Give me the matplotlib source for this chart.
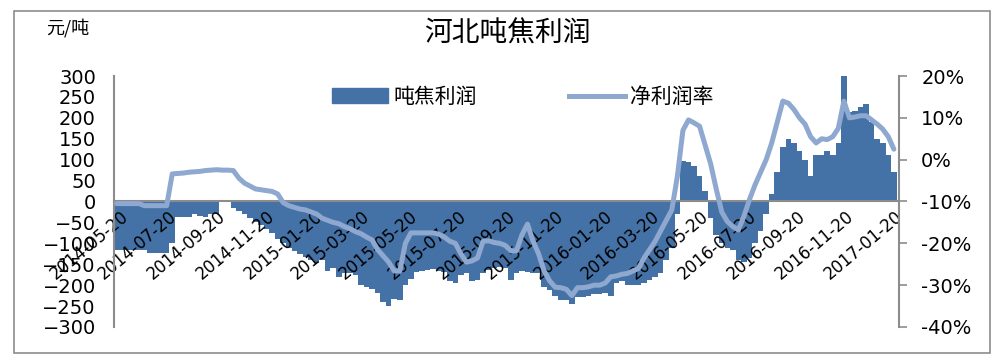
import numpy as np
import pandas as pd
import matplotlib
matplotlib.use('Agg')
import matplotlib.pyplot as plt
from matplotlib.patches import Rectangle
from matplotlib.lines import Line2D
from matplotlib.ticker import FuncFormatter, FixedLocator, FixedFormatter
import matplotlib.dates as mdates

plt.rcParams['font.family'] = ['Noto Sans CJK SC', 'DejaVu Sans']

# weekly values, starting 2014-05-12
profit = [
    -117, -117, -117, -117, -117, -117, -123, -123, -123, -123,
    -100, -38, -36, -36, -30, -35, -38, -30, -29, None,
    None, -15, -22, -30, -40, -48, -55, -65, -75, -90,
    -100, -110, -118, -125, -133, -140, -148, -140, -165, -160,
    -180, -172, -170, -175, -200, -205, -210, -218, -240, -250,
    -232, -235, -200, -185, -168, -166, -164, -162, -165, -168,
    -190, -195, -175, -170, -190, -188, -170, -164, -160, -157,
    -160, -188, -170, -165, -168, -170, -171, -205, -212, -225,
    -236, -236, -245, -229, -229, -225, -222, -220, -219, -225,
    -195, -190, -200, -200, -200, -195, -188, -180, -170, -140,
    -110, -30, 98, 95, 85, 60, 25, -40, -80, -100,
    -110, -117, -140, -145, -135, -100, -70, -30, 18, 70,
    130, 150, 140, 120, 100, 60, 112, 112, 120, 110,
    140, 300, 214, 216, 225, 233, 190, 150, 140, 110,
    70,
]
margin = [
    -10.5, -10.5, -10.5, -10.5, -10.5, -11.0, -11.0, -11.0, -11.0, -11.0,
    -3.4, -3.3, -3.2, -3.0, -2.9, -2.8, -2.6, -2.5, -2.4, -2.5,
    -2.5, -2.6, -4.4, -5.6, -6.3, -7.0, -7.2, -7.4, -7.6, -8.2,
    -10.3, -11.0, -11.4, -11.8, -12.0, -12.5, -13.0, -14.0, -14.5, -15.0,
    -15.3, -16.0, -16.5, -17.2, -17.7, -18.5, -19.2, -21.5, -23.0, -24.5,
    -26.6, -26.6, -20.0, -17.5, -17.5, -17.5, -17.5, -17.5, -17.8, -18.5,
    -19.5, -20.0, -22.5, -24.5, -24.2, -23.5, -19.5, -19.4, -19.8, -20.0,
    -20.5, -21.8, -21.8, -18.0, -15.4, -19.5, -22.5, -26.6, -29.0, -30.5,
    -30.6, -31.0, -32.5, -30.6, -30.6, -30.4, -30.0, -30.0, -29.5, -28.0,
    -27.8, -27.4, -27.2, -26.6, -26.0, -23.5, -21.5, -19.5, -17.0, -14.5,
    -12.0, -4.0, 7.0, 9.5, 8.8, 8.0, 3.5, -1.0, -7.0, -12.5,
    -14.8, -16.0, -16.8, -13.5, -9.5, -6.0, -3.0, 0.0, 4.0, 9.0,
    14.0, 13.5, 12.0, 10.0, 8.5, 5.5, 4.0, 5.0, 4.8, 5.5,
    7.5, 14.0, 10.0, 10.2, 10.5, 10.5, 9.5, 8.5, 7.3, 5.5,
    2.5,
]
dates = pd.date_range('2014-05-12', periods=len(profit), freq='7D')
tick_dates = pd.date_range('2014-05-01', '2017-01-31', freq='2MS') + pd.Timedelta(days=19)

BAR = '#4472A6'
LINE = '#8EA8D0'
GREY = '#8C8C8C'

fig = plt.figure(figsize=(9.97, 3.56), dpi=100)
fig.patches.append(Rectangle((0.014, 0.008), 0.979, 0.96, transform=fig.transFigure,
                             fill=False, edgecolor=GREY, linewidth=1.2))

ax = fig.add_axes([0.1143, 0.0815, 0.7874, 0.705])
ax.bar(dates, np.array(profit, dtype=float), width=7, align='edge', color=BAR, linewidth=0)

ax2 = ax.twinx()
ax2.plot(dates + pd.Timedelta(hours=84), margin, color=LINE, lw=3.6,
         solid_joinstyle='round', solid_capstyle='round')

# spine position first: moving it resets the ticks
ax.spines['bottom'].set_position(('data', 0))
for s in ['top', 'right']:
    ax.spines[s].set_visible(False)
for s in ['left', 'bottom']:
    ax.spines[s].set_color(GREY)
    ax.spines[s].set_linewidth(1.5)

ax.set_xlim(pd.Timestamp('2014-05-12'), pd.Timestamp('2017-01-26'))
ax.set_ylim(-300, 300)
ax.set_yticks(range(-300, 301, 50))
ax.xaxis.set_major_locator(FixedLocator(mdates.date2num(tick_dates)))
ax.xaxis.set_major_formatter(FixedFormatter([d.strftime('%Y-%m-%d') for d in tick_dates]))
ax.tick_params(axis='x', length=0, pad=4, labelsize=12)
ax.tick_params(axis='y', length=0, pad=13, labelsize=14)
plt.setp(ax.get_xticklabels(), rotation=40, ha='right', va='top',
         rotation_mode='anchor', family='DejaVu Sans')
plt.setp(ax.get_yticklabels(), family='DejaVu Sans')

ax2.set_ylim(-40, 20)
ax2.set_yticks(range(-40, 21, 10))
ax2.yaxis.set_major_formatter(FuncFormatter(lambda v, p: f'{v:.0f}%'))
ax2.tick_params(axis='y', direction='out', length=6, width=1.2, color=GREY,
                pad=10, labelsize=14)
plt.setp(ax2.get_yticklabels(), family='DejaVu Sans')
for s in ['top', 'left', 'bottom']:
    ax2.spines[s].set_visible(False)
ax2.spines['right'].set_color(GREY)
ax2.spines['right'].set_linewidth(1.5)

fig.text(0.509, 0.905, '河北吨焦利润', ha='center', va='center', fontsize=20)
fig.text(0.046, 0.92, '元/吨', ha='left', va='center', fontsize=13)

handles = [Rectangle((0, 0), 1, 1, color=BAR), Line2D([], [], color=LINE, lw=3.6)]
fig.legend(handles, ['吨焦利润', '净利润率'], loc='center left',
           bbox_to_anchor=(332 / 997, 1 - 97 / 356), ncol=2, frameon=False,
           fontsize=15, handlelength=2.7, handletextpad=0.25, columnspacing=4.4,
           borderpad=0, borderaxespad=0)

fig.savefig('out.png', dpi=100)
